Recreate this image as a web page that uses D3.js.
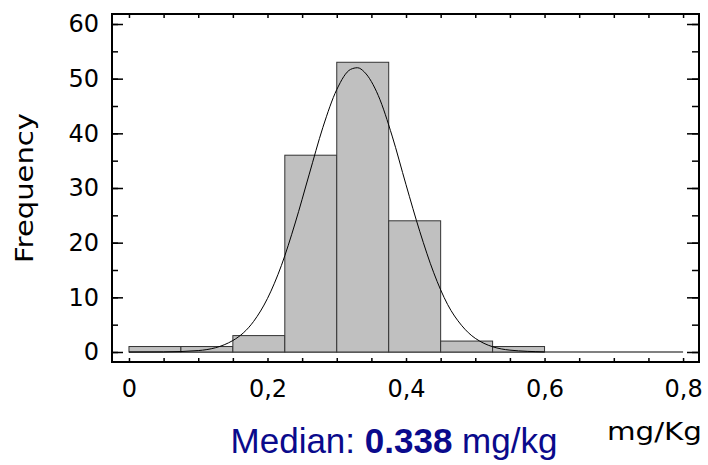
<!DOCTYPE html>
<html>
<head>
<meta charset="utf-8">
<script src="https://cdn.jsdelivr.net/npm/d3@7"></script>
<style>
  body { margin: 0; background: #fff; }
  svg text { font-family: "DejaVu Sans", sans-serif; }
</style>
</head>
<body>
<script>
// histogram bins (mg/Kg) and counts
var binEdges = [0, 0.075, 0.15, 0.225, 0.3, 0.375, 0.45, 0.525, 0.6];
var counts = [1, 1, 3, 36, 53, 24, 2, 1];

// fitted curve
var curveX = [0, 0.05, 0.1, 0.15, 0.18, 0.2, 0.22, 0.24, 0.26, 0.28, 0.3, 0.32, 0.33, 0.34, 0.36, 0.38, 0.4, 0.42, 0.44, 0.46, 0.48, 0.5, 0.55, 0.6];
var curveY = [0, 0.02, 0.26, 2.1, 5.6, 9.8, 15.8, 23.6, 32.4, 41.1, 48, 51.7, 52, 51.2, 46.9, 39.5, 30.6, 22, 14.5, 8.7, 4.9, 2.5, 0.34, 0.02];

var xTicks = [0, 0.2, 0.4, 0.6, 0.8];
var xTickLabels = ["0", "0,2", "0,4", "0,6", "0,8"];
var yTicks = [0, 10, 20, 30, 40, 50, 60];

var W = 708, H = 465;
var pL = 112, pT = 14, pR = 699, pB = 362;

var svg = d3.select("body").append("svg")
  .attr("width", W)
  .attr("height", H);

var x = d3.scaleLinear().domain([-0.0245, 0.823]).range([pL, pR]);
var y = d3.scaleLinear().domain([-1.83, 61.83]).range([pB, pT]);

var minorX = d3.range(0, 0.8001, 0.05);
var minorY = d3.range(0, 60.001, 5);

// zero line
svg.append("line")
  .attr("x1", x(0)).attr("x2", x(0.8))
  .attr("y1", y(0)).attr("y2", y(0))
  .attr("stroke", "#808080")
  .attr("stroke-width", 2);

// bars
svg.selectAll("rect.bar")
  .data(counts)
  .enter()
  .append("rect")
  .attr("class", "bar")
  .attr("x", function(d, i) { return x(binEdges[i]); })
  .attr("width", function(d, i) { return x(binEdges[i + 1]) - x(binEdges[i]); })
  .attr("y", function(d) { return y(d); })
  .attr("height", function(d) { return y(0) - y(d); })
  .attr("fill", "#c0c0c0")
  .attr("stroke", "#333")
  .attr("stroke-width", 1);

// curve
var line = d3.line()
  .x(function(d, i) { return x(curveX[i]); })
  .y(function(d) { return y(d); })
  .curve(d3.curveMonotoneX);

svg.append("path")
  .attr("d", line(curveY))
  .attr("fill", "none")
  .attr("stroke", "#000")
  .attr("stroke-width", 1);

// axes
function noDomain(g) { g.select(".domain").remove(); }

svg.append("g")
  .attr("transform", "translate(0," + pB + ")")
  .call(d3.axisBottom(x).tickValues(minorX).tickSize(-4).tickFormat(""))
  .call(noDomain);

svg.append("g")
  .attr("transform", "translate(0," + pB + ")")
  .call(d3.axisBottom(x).tickValues(xTicks).tickSize(0).tickPadding(18)
    .tickFormat(function(d, i) { return xTickLabels[i]; }))
  .call(noDomain);

svg.append("g")
  .attr("transform", "translate(0," + pT + ")")
  .call(d3.axisTop(x).tickValues(minorX).tickSize(-4).tickFormat(""))
  .call(noDomain);

svg.append("g")
  .attr("transform", "translate(" + pL + ",0)")
  .call(d3.axisLeft(y).tickValues(minorY).tickSize(-6).tickFormat(""))
  .call(noDomain);

svg.append("g")
  .attr("transform", "translate(" + pL + ",0)")
  .call(d3.axisLeft(y).tickValues(yTicks).tickSize(-11).tickPadding(13))
  .call(noDomain);

svg.append("g")
  .attr("transform", "translate(" + pR + ",0)")
  .call(d3.axisRight(y).tickValues(minorY).tickSize(-7).tickFormat(""))
  .call(noDomain);

svg.append("g")
  .attr("transform", "translate(" + pR + ",0)")
  .call(d3.axisRight(y).tickValues(yTicks).tickSize(-12).tickFormat(""))
  .call(noDomain);

svg.selectAll(".tick line").attr("stroke", "#000").attr("stroke-width", 1.5);
svg.selectAll(".tick text")
  .attr("fill", "#000")
  .style("font-size", "24px")
  .style("font-family", "DejaVu Sans, sans-serif");

// frame
svg.append("rect")
  .attr("x", pL).attr("y", pT)
  .attr("width", pR - pL).attr("height", pB - pT)
  .attr("fill", "none")
  .attr("stroke", "#000")
  .attr("stroke-width", 2);

// labels
svg.append("text")
  .attr("transform", "translate(33,188) rotate(-90)")
  .attr("text-anchor", "middle")
  .attr("textLength", 150)
  .attr("lengthAdjust", "spacingAndGlyphs")
  .style("font-size", "24px")
  .text("Frequency");

svg.append("text")
  .attr("x", 607).attr("y", 440)
  .attr("textLength", 95)
  .attr("lengthAdjust", "spacingAndGlyphs")
  .style("font-size", "24px")
  .text("mg/Kg");

var med = svg.append("text")
  .attr("x", 394).attr("y", 453)
  .attr("text-anchor", "middle")
  .attr("fill", "#0a0a8c")
  .style("font-family", "Liberation Sans, Arial, sans-serif")
  .style("font-size", "35px");
med.append("tspan").text("Median: ");
med.append("tspan").style("font-weight", "bold").text("0.338");
med.append("tspan").text(" mg/kg");
</script>
</body>
</html>
